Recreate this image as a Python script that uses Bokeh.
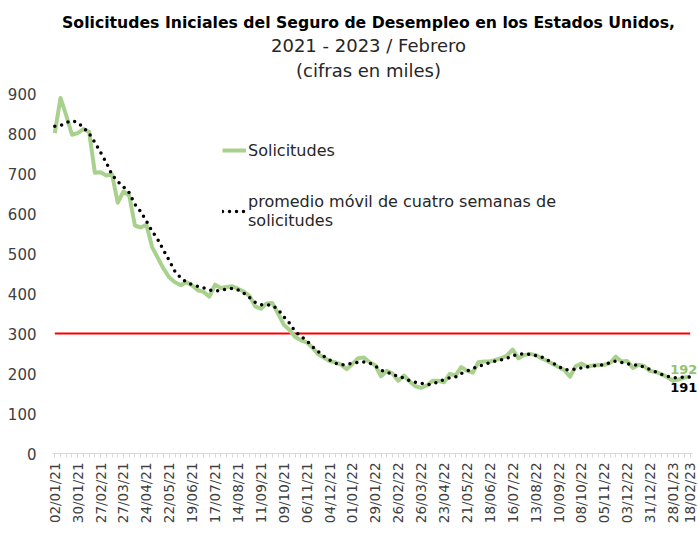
import pandas as pd
from bokeh.plotting import figure
from bokeh.models import (ColumnDataSource, Range1d, FixedTicker, Label,
                          Legend, LegendItem)
from bokeh.embed import file_html
from bokeh.resources import INLINE

# ---------------- data ----------------
semanas = [d.strftime("%d/%m/%y") for d in pd.date_range("2021-01-02", periods=112, freq="7D")]

solicitudes = [
    801, 889, 845, 797, 801, 811, 804, 702, 703, 695,
    698, 627, 655, 645, 570, 565, 572, 516, 489, 462,
    440, 428, 421, 428, 420, 408, 404, 392, 422, 414,
    416, 418, 412, 405, 394, 368, 362, 375, 376, 350,
    322, 309, 291, 283, 278, 265, 248, 240, 231, 228,
    222, 211, 224, 238, 240, 228, 220, 193, 207, 200,
    182, 195, 180, 168, 164, 170, 182, 182, 178, 199,
    195, 216, 207, 202, 228, 230, 230, 234, 238, 245,
    260, 238, 246, 249, 246, 238, 232, 224, 216, 209,
    192, 218, 225, 217, 220, 221, 222, 226, 242, 230,
    231, 214, 222, 218, 206, 204, 198, 191, 182, 185,
    190, 192,
]

promedio_movil = [
    818, 820, 827, 832, 828, 815, 800, 778, 753, 727,
    697, 680, 667, 652, 623, 605, 581, 556, 535, 508,
    482, 455, 439, 428, 422, 418, 414, 409, 406, 408,
    411, 413, 409, 401, 390, 378, 372, 372, 370, 360,
    342, 326, 305, 293, 282, 267, 255, 243, 234, 226,
    221, 223, 225, 228, 229, 226, 219, 208, 203, 198,
    192, 189, 182, 178, 176, 172, 174, 179, 185, 189,
    191, 200, 206, 212, 218, 222, 227, 231, 234, 238,
    244, 248, 249, 248, 245, 242, 234, 226, 218, 210,
    209, 211, 214, 217, 219, 220, 222, 227, 231, 228,
    224, 222, 221, 215, 210, 204, 198, 193, 189, 190,
    191, 191,
]

umbral = 300

etiquetas_eje = [
    "02/01/21", "30/01/21", "27/02/21", "27/03/21", "24/04/21", "22/05/21",
    "19/06/21", "17/07/21", "14/08/21", "11/09/21", "09/10/21", "06/11/21",
    "04/12/21", "01/01/22", "29/01/22", "26/02/22", "26/03/22", "23/04/22",
    "21/05/22", "18/06/22", "16/07/22", "13/08/22", "10/09/22", "08/10/22",
    "05/11/22", "03/12/22", "31/12/22", "28/01/23", "18/02/23",
]

y_ticks = [0, 100, 200, 300, 400, 500, 600, 700, 800, 900]

titulo = "Solicitudes Iniciales del Seguro de Desempleo en los Estados Unidos,"
subtitulo1 = "2021 - 2023 / Febrero"
subtitulo2 = "(cifras en miles)"

# ---------------- figure ----------------
FONT = "DejaVu Sans"
GREEN = "#a9d18e"
TXT = "#404040"

W, H = 698, 536
LEFT, BOTTOM = 52, 83
PLOT_TOP_PX = 93                 # pixel row of the value 900
y_max = y_ticks[-1]
px_per_unit = (H - BOTTOM - PLOT_TOP_PX) / y_max
y_top = (H - BOTTOM) / px_per_unit   # frame reaches the top of the canvas (room for titles)

x = list(range(len(semanas)))
src = ColumnDataSource(dict(x=x, fecha=semanas, sol=solicitudes, pm=promedio_movil,
                            umbral=[umbral] * len(x)))

x_start = -0.4
x_end_axis = len(semanas) - 0.6
p = figure(width=W, height=H, output_backend="svg", toolbar_location=None,
           x_range=Range1d(x_start, x_end_axis + 1.05), y_range=Range1d(0, y_top),
           min_border_left=LEFT, min_border_right=0, min_border_bottom=BOTTOM,
           min_border_top=0)
p.outline_line_color = None
p.xgrid.grid_line_color = None
p.ygrid.grid_line_color = None
p.background_fill_color = "white"
p.border_fill_color = "white"

# titles (screen units measured from the frame's bottom-left corner)
cx = 316
for txt, style, size, ypx, col in [(titulo, "bold", "15.7px", 22, "black"),
                                   (subtitulo1, "normal", "18px", 45, "#262626"),
                                   (subtitulo2, "normal", "18px", 70, "#262626")]:
    p.add_layout(Label(x=cx, y=H - BOTTOM - ypx, x_units="screen", y_units="screen",
                       text=txt, text_align="center", text_baseline="middle",
                       text_font=FONT, text_font_size=size, text_font_style=style,
                       text_color=col))

# threshold line
p.line("x", "umbral", source=src, line_color="#ff0000", line_width=2)

# lines
r_sol = p.line("x", "sol", source=src, line_color=GREEN, line_width=4, line_join="round")
r_pm = p.line("x", "pm", source=src, line_color="black", line_width=3.5,
              line_dash="0 7", line_cap="round")

# end labels
last = len(semanas) - 1
p.add_layout(Label(x=last, y=solicitudes[-1], text=str(solicitudes[-1]), x_offset=-20, y_offset=3,
                   text_baseline="bottom", text_font=FONT, text_font_size="13px",
                   text_font_style="bold", text_color="#92c36b"))
p.add_layout(Label(x=last, y=promedio_movil[-1], text=str(promedio_movil[-1]), x_offset=-20, y_offset=-6,
                   text_baseline="top", text_font=FONT, text_font_size="13px",
                   text_font_style="bold", text_color="black"))

# axes
major_pos = [semanas.index(l) for l in etiquetas_eje]
xa = p.xaxis[0]
xa.bounds = (x_start, x_end_axis)
xa.ticker = FixedTicker(ticks=major_pos, minor_ticks=x)
xa.major_label_overrides = {i: semanas[i] for i in major_pos}
xa.major_label_orientation = 3.14159265 / 2
xa.axis_line_color = "#d9d9d9"
xa.major_tick_line_color = "#d9d9d9"
xa.minor_tick_line_color = "#d9d9d9"
xa.major_tick_in = 0
xa.major_tick_out = 4
xa.minor_tick_in = 0
xa.minor_tick_out = 4
xa.major_label_standoff = 5
xa.major_label_text_font = FONT
xa.major_label_text_font_size = "13.5px"
xa.major_label_text_color = TXT

ya = p.yaxis[0]
ya.ticker = FixedTicker(ticks=y_ticks)
ya.axis_line_color = None
ya.major_tick_line_color = None
ya.minor_tick_line_color = None
ya.major_tick_out = 0
ya.major_tick_in = 0
ya.major_label_standoff = 16
ya.major_label_text_font = FONT
ya.major_label_text_font_size = "15px"
ya.major_label_text_color = TXT

# legend
legend = Legend(items=[LegendItem(label="Solicitudes", renderers=[r_sol]),
                       LegendItem(label="promedio móvil de cuatro semanas de\nsolicitudes", renderers=[r_pm])],
                location=(170, 223), orientation="vertical",
                border_line_color=None, background_fill_alpha=0,
                padding=0, margin=0, spacing=32, glyph_width=24, glyph_height=20,
                label_standoff=2, label_text_font=FONT, label_text_font_size="16px",
                label_text_line_height=1.35, label_text_color="#262626")
p.add_layout(legend, "center")

open("out.html", "w").write(file_html(p, INLINE))
